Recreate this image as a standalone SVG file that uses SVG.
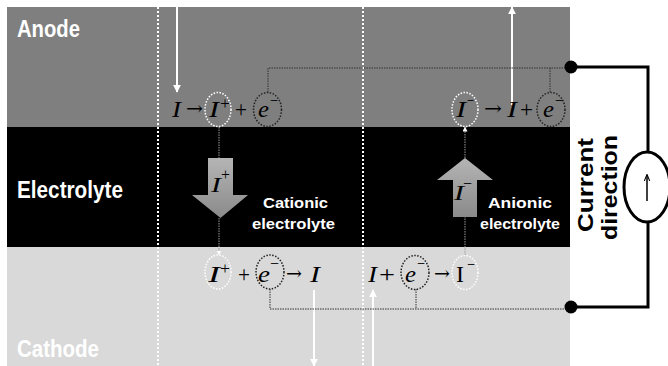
<svg xmlns="http://www.w3.org/2000/svg" width="668" height="366" viewBox="0 0 668 366">
<defs>
<linearGradient id="ga" x1="0" y1="0" x2="0" y2="1">
<stop offset="0" stop-color="#b5b5b5"/>
<stop offset="1" stop-color="#8a8a8a"/>
</linearGradient>
<marker id="wa" viewBox="0 0 10 10" refX="9" refY="5" markerWidth="5" markerHeight="5" orient="auto" markerUnits="userSpaceOnUse">
<path d="M0,0 L10,5 L0,10 z" fill="#fff"/>
</marker>
<marker id="wa2" viewBox="0 0 10 10" refX="9" refY="5" markerWidth="8" markerHeight="8" orient="auto" markerUnits="userSpaceOnUse">
<path d="M0,0 L10,5 L0,10 z" fill="#fff"/>
</marker>
<marker id="ka" viewBox="0 0 10 10" refX="9" refY="5" markerWidth="7" markerHeight="7" orient="auto" markerUnits="userSpaceOnUse">
<path d="M0,1 L10,5 L0,9" fill="none" stroke="#000" stroke-width="1.5"/>
</marker>
</defs>
<style>
.lbl{font-family:"Liberation Sans",Arial,sans-serif;font-weight:bold;fill:#fff}
.m{font-family:"Liberation Serif","Times New Roman",serif;font-size:24px;fill:#000}
.ar{font-family:"DejaVu Serif",serif;font-size:20px;fill:#000}
.i{font-style:italic}
.sup{font-size:17px}
.wc{fill:none;stroke:#fff;stroke-width:1.5;stroke-dasharray:1.5 1.5}
.kc{fill:none;stroke:#222;stroke-width:1.5;stroke-dasharray:1.5 1.5}
.dl{fill:none;stroke:#333;stroke-width:1;stroke-dasharray:1.5 1}
.gl{fill:none;stroke:#9a9a9a;stroke-width:1;stroke-dasharray:1.5 1}
.sep{stroke:#fff;stroke-width:2;stroke-dasharray:2 2}
.wl{stroke:#fff;stroke-width:2}
.ck{fill:none;stroke:#000;stroke-width:3}
</style>
<rect width="668" height="366" fill="#fff"/>
<g id="anode"><rect x="7" y="7" width="563" height="120" fill="#7f7f7f"/>
<text class="lbl" x="17" y="37" font-size="24" textLength="63" lengthAdjust="spacingAndGlyphs">Anode</text></g>
<g id="electrolyte"><rect x="7" y="127" width="563" height="120" fill="#000"/>
<text class="lbl" x="17" y="198" font-size="24" textLength="106" lengthAdjust="spacingAndGlyphs">Electrolyte</text></g>
<g id="cathode"><rect x="7" y="247" width="563" height="119" fill="#d9d9d9"/>
<text class="lbl" x="17" y="357" font-size="24" textLength="82" lengthAdjust="spacingAndGlyphs">Cathode</text></g>
<g id="separators">
<line class="sep" x1="158" y1="7" x2="158" y2="366"/>
<line class="sep" x1="363" y1="7" x2="363" y2="366"/>
</g>
<g id="connectors">
<line class="wl" x1="177" y1="7" x2="177" y2="92" marker-end="url(#wa2)"/>
<line class="wl" x1="512" y1="105" x2="512" y2="7" marker-end="url(#wa2)"/>
<line class="wl" x1="314" y1="290" x2="314" y2="366" marker-end="url(#wa2)"/>
<line class="wl" x1="373" y1="366" x2="373" y2="290" marker-end="url(#wa2)"/>
<path class="dl" d="M268,92 V68 H566"/>
<path class="dl" d="M550,68 V92"/>
<path class="dl" d="M270,289 V309 H566"/>
<path class="dl" d="M416,289 V309"/>
<line class="gl" x1="219" y1="127" x2="219" y2="158"/>
<line class="gl" x1="219" y1="218" x2="219" y2="255" marker-end="url(#wa)"/>
<line class="gl" x1="465" y1="255" x2="465" y2="217"/>
<line class="gl" x1="465" y1="158" x2="465" y2="127" marker-end="url(#wa)"/>
<path class="ck" d="M571,67 H648 V307 H571"/>
<circle cx="571" cy="67" r="6.5" fill="#000"/>
<circle cx="571" cy="307" r="6.5" fill="#000"/>
</g>
<g id="eq-anode-left">
<ellipse class="wc" cx="218" cy="109.5" rx="13" ry="17"/>
<ellipse class="kc" cx="267.5" cy="109.5" rx="14" ry="17"/>
<text class="m i" x="172" y="117" textLength="9" lengthAdjust="spacingAndGlyphs">I</text>
<text class="ar" x="186" y="115" textLength="17" lengthAdjust="spacingAndGlyphs">→</text>
<text class="m i" x="209" y="117" textLength="10" lengthAdjust="spacingAndGlyphs">I</text>
<text class="m sup" x="220" y="109" textLength="10" lengthAdjust="spacingAndGlyphs">+</text>
<text class="m" x="235" y="117" textLength="12" lengthAdjust="spacingAndGlyphs">+</text>
<text class="m i" x="258" y="117" textLength="11" lengthAdjust="spacingAndGlyphs">e</text>
<text class="m sup" x="270" y="106" textLength="8" lengthAdjust="spacingAndGlyphs">−</text>
</g>
<g id="eq-anode-right">
<ellipse class="wc" cx="465" cy="109.5" rx="13" ry="17"/>
<ellipse class="kc" cx="551" cy="109.5" rx="14" ry="17"/>
<text class="m i" x="456" y="117" textLength="10" lengthAdjust="spacingAndGlyphs">I</text>
<text class="m sup" x="467" y="106" textLength="7" lengthAdjust="spacingAndGlyphs">−</text>
<text class="ar" x="484" y="115" textLength="18" lengthAdjust="spacingAndGlyphs">→</text>
<text class="m i" x="507" y="117" textLength="10" lengthAdjust="spacingAndGlyphs">I</text>
<text class="m" x="520" y="117" textLength="13" lengthAdjust="spacingAndGlyphs">+</text>
<text class="m i" x="543" y="117" textLength="11" lengthAdjust="spacingAndGlyphs">e</text>
<text class="m sup" x="555" y="106" textLength="8" lengthAdjust="spacingAndGlyphs">−</text>
</g>
<g id="eq-cathode-left">
<ellipse class="wc" cx="218" cy="272" rx="13" ry="17"/>
<ellipse class="kc" cx="270" cy="272" rx="14" ry="17"/>
<text class="m i" x="208" y="282" textLength="12" lengthAdjust="spacingAndGlyphs">I</text>
<text class="m sup" x="220" y="274" textLength="10" lengthAdjust="spacingAndGlyphs">+</text>
<text class="m" x="238" y="282" textLength="12" lengthAdjust="spacingAndGlyphs">+</text>
<text class="m i" x="258" y="282" textLength="12" lengthAdjust="spacingAndGlyphs">e</text>
<text class="m sup" x="270" y="269" textLength="9" lengthAdjust="spacingAndGlyphs">−</text>
<text class="ar" x="286" y="280" textLength="16" lengthAdjust="spacingAndGlyphs">→</text>
<text class="m i" x="310" y="282" textLength="10" lengthAdjust="spacingAndGlyphs">I</text>
</g>
<g id="eq-cathode-right">
<ellipse class="kc" cx="415" cy="272.5" rx="14" ry="17"/>
<ellipse class="wc" cx="465" cy="272.5" rx="13" ry="17"/>
<text class="m i" x="368" y="282" textLength="9" lengthAdjust="spacingAndGlyphs">I</text>
<text class="m" x="379" y="282" textLength="16" lengthAdjust="spacingAndGlyphs">+</text>
<text class="m i" x="405" y="282" textLength="11" lengthAdjust="spacingAndGlyphs">e</text>
<text class="m sup" x="417" y="269" textLength="8" lengthAdjust="spacingAndGlyphs">−</text>
<text class="ar" x="434" y="280" textLength="16" lengthAdjust="spacingAndGlyphs">→</text>
<text class="m" x="456" y="282" textLength="8" lengthAdjust="spacingAndGlyphs">I</text>
<text class="m sup" x="467" y="270" textLength="8" lengthAdjust="spacingAndGlyphs">−</text>
</g>
<g id="cation-arrow">
<path d="M208,158 H233 V195 H248 L220.5,218 L192,195 H208 Z" fill="url(#ga)"/>
<text class="m i" x="211" y="192" textLength="10" lengthAdjust="spacingAndGlyphs" style="font-size:21px">I</text>
<text class="m sup" x="221" y="180" textLength="9" lengthAdjust="spacingAndGlyphs">+</text>
<text class="lbl" x="263" y="208" font-size="15" textLength="65" lengthAdjust="spacingAndGlyphs">Cationic</text>
<text class="lbl" x="252" y="229" font-size="15" textLength="83" lengthAdjust="spacingAndGlyphs">electrolyte</text>
</g>
<g id="anion-arrow">
<path d="M465,158 L493,180 H477 V217 H453 V180 H437 Z" fill="url(#ga)"/>
<text class="m i" x="454" y="200" textLength="10" lengthAdjust="spacingAndGlyphs" style="font-size:21px">I</text>
<text class="m sup" x="463" y="189" textLength="9" lengthAdjust="spacingAndGlyphs">−</text>
<text class="lbl" x="488" y="208" font-size="15" textLength="64" lengthAdjust="spacingAndGlyphs">Anionic</text>
<text class="lbl" x="480" y="229" font-size="15" textLength="80" lengthAdjust="spacingAndGlyphs">electrolyte</text>
</g>
<g id="current-source">
<ellipse cx="647" cy="187" rx="23" ry="35" fill="#fff" stroke="#000" stroke-width="3"/>
<line x1="647" y1="201" x2="647" y2="175" stroke="#000" stroke-width="1.5" marker-end="url(#ka)"/>
<text class="lbl" transform="translate(593,185) rotate(-90)" text-anchor="middle" font-size="22" style="fill:#000" textLength="94" lengthAdjust="spacingAndGlyphs">Current</text>
<text class="lbl" transform="translate(617,187.5) rotate(-90)" text-anchor="middle" font-size="22" style="fill:#000" textLength="105" lengthAdjust="spacingAndGlyphs">direction</text>
</g>
</svg>
